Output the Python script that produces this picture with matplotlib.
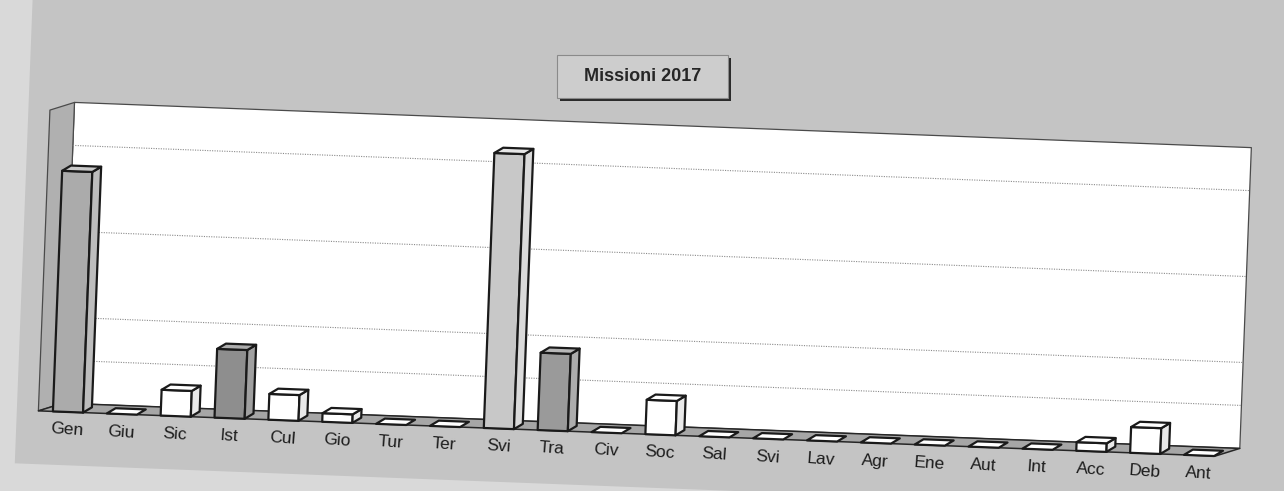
import matplotlib.pyplot as plt
from matplotlib.patches import Polygon, Rectangle
from matplotlib.transforms import Affine2D

plt.rcParams['font.family'] = ['Liberation Sans', 'DejaVu Sans']

# missions per area, 2017
categories = ['Gen', 'Giu', 'Sic', 'Ist', 'Cul', 'Gio', 'Tur', 'Ter', 'Svi', 'Tra', 'Civ',
              'Soc', 'Sal', 'Svi', 'Lav', 'Agr', 'Ene', 'Aut', 'Int', 'Acc', 'Deb', 'Ant']
missions = [28, 0, 3, 8, 3, 1, 0, 0, 32, 9, 0, 4, 0, 0, 0, 0, 0, 0, 0, 1, 3, 0]
grid_levels = [5, 10, 20, 30]
wall_top = 35
title = 'Missioni 2017'

# shaded bars (by position), everything else is white
shade = {0: '#ababab', 3: '#8e8e8e', 8: '#c8c8c8', 9: '#9a9a9a'}

W, H = 1284, 491
px_x, px_y = 53.9, 8.6       # pixels per category / per mission
x0_px, y0_px = 68, 79        # where the first bar sits on the floor
hw = 0.28                    # half bar width
bdx, bdy = 0.16, 0.65        # bar depth
wdx, wdy = 0.45, 1.0         # floor/wall depth
left, right = -0.55, len(categories) - 0.7

fig = plt.figure(figsize=(W / 100, H / 100), dpi=100, facecolor='#d9d9d9')
ax = fig.add_axes([0, 0, 1, 1])
ax.set_autoscale_on(False)
ax.set_xlim(-x0_px / px_x, (W - x0_px) / px_x)
ax.set_ylim(-y0_px / px_y, (H - y0_px) / px_y)
ax.axis('off')

# whole chart is slightly tilted
tilt = ax.transData + Affine2D().rotate_deg_around(x0_px, y0_px, -2.2)


def face(pts, fc, ec='#1a1a1a', lw=1.6, z=3):
    ax.add_patch(Polygon(pts, closed=True, facecolor=fc, edgecolor=ec, linewidth=lw,
                         joinstyle='round', transform=tilt, zorder=z))


def shift(hex_color, k):
    c = int(hex_color[1:3], 16)
    c = max(0, min(255, int(c + k)))
    return '#%02x%02x%02x' % (c, c, c)


# chart area
face([(-0.95, -6.2), (26, -6.2), (26, 70), (-0.95, 70)], '#c4c4c4', ec='none', z=0)

# back wall, left wall, floor
face([(left + wdx, wdy), (right + wdx, wdy), (right + wdx, wall_top + wdy),
      (left + wdx, wall_top + wdy)], 'white', ec='#4a4a4a', lw=0.9, z=1)
face([(left, 0), (left + wdx, wdy), (left + wdx, wall_top + wdy), (left, wall_top)],
     '#b0b0b0', ec='#4a4a4a', lw=0.9, z=1)
face([(left, 0), (right, 0), (right + wdx, wdy), (left + wdx, wdy)],
     '#a6a6a6', ec='#262626', lw=1.1, z=1)

for g in grid_levels:
    ax.plot([left + wdx, right + wdx], [g + wdy, g + wdy], color='#8a8a8a', lw=0.8,
            ls=(0, (1, 1.2)), transform=tilt, zorder=2)

# 3d columns
for i, v in enumerate(missions):
    fc = shade.get(i, '#ffffff')
    xa, xb = i - hw, i + hw
    if v > 0:
        face([(xa, 0), (xb, 0), (xb, v), (xa, v)], fc)
        face([(xb, 0), (xb + bdx, bdy), (xb + bdx, v + bdy), (xb, v)], shift(fc, 18 if i in shade else -22))
    face([(xa, v), (xb, v), (xb + bdx, v + bdy), (xa + bdx, v + bdy)], shift(fc, 30 if i in shade else 0))

for i, name in enumerate(categories):
    ax.text(i, -2.1, name, fontsize=12.5, color='#1c1c1c', ha='center', va='center',
            rotation=-4, rotation_mode='anchor', transform=tilt, zorder=4)

# title box with drop shadow
bx, by, bw, bh = 557, 98, 171, 43
fig.add_artist(Rectangle(((bx + 3) / W, 1 - (by + 3) / H), bw / W, bh / H,
                         transform=fig.transFigure, facecolor='#2a2a2a', edgecolor='none', zorder=5))
fig.add_artist(Rectangle((bx / W, 1 - by / H), bw / W, bh / H, transform=fig.transFigure,
                         facecolor='#cdcdcd', edgecolor='#8a8a8a', linewidth=0.8, zorder=6))
fig.text((bx + bw / 2) / W, 1 - (by - bh / 2) / H, title, fontsize=13, fontweight='bold',
         color='#262626', ha='center', va='center', zorder=7)

fig.savefig('out.png', dpi=100, facecolor=fig.get_facecolor())
